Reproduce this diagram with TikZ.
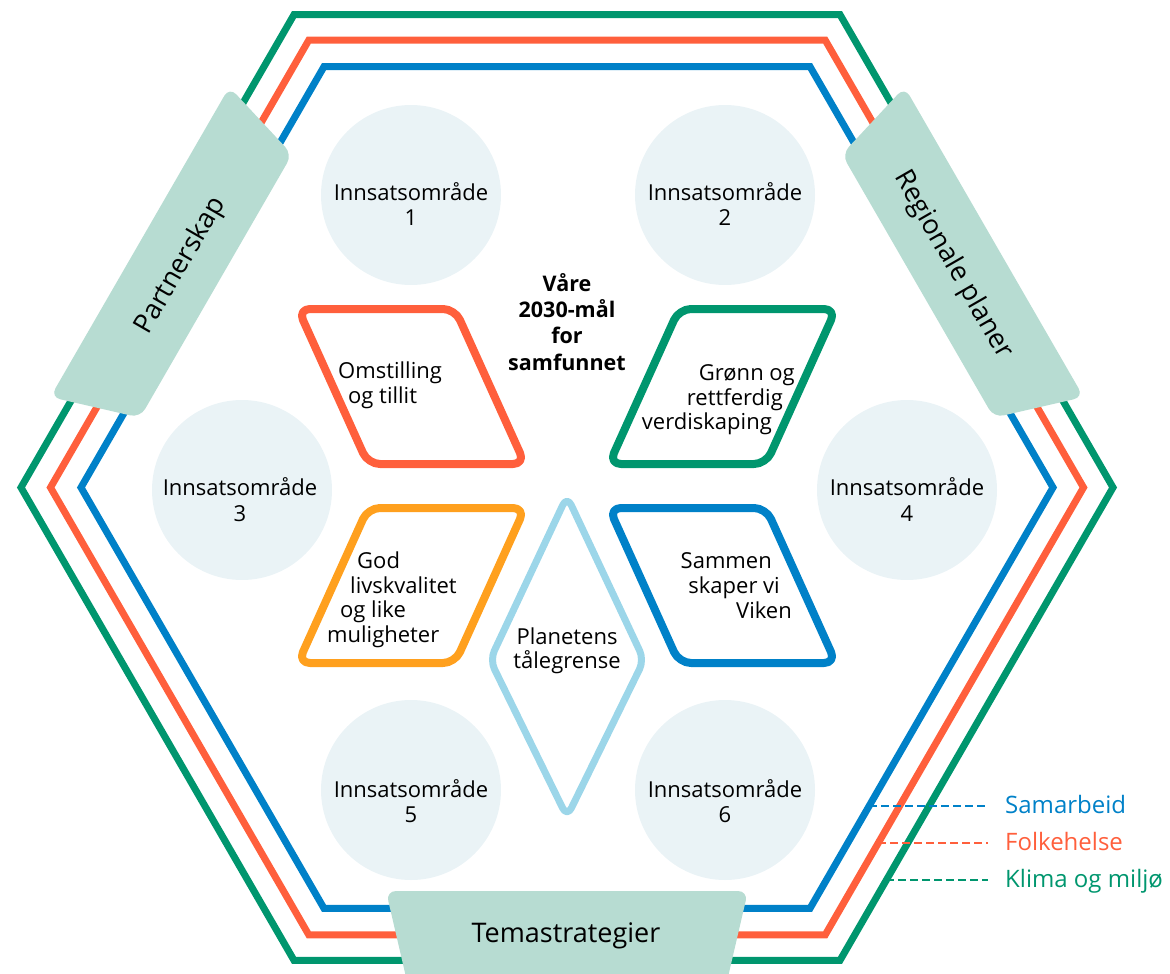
\documentclass[tikz,border=0pt]{standalone}
\usepackage{fontspec}
\setmainfont{Open Sans}
\definecolor{cgreen}{HTML}{00966E}
\definecolor{corange}{HTML}{FF5F3C}
\definecolor{cblue}{HTML}{0081C8}
\definecolor{cyellow}{HTML}{FFA01E}
\definecolor{clight}{HTML}{9CD6E9}
\definecolor{cbox}{HTML}{B7DCD2}
\definecolor{ccirc}{HTML}{EAF3F6}
\begin{document}
\begin{tikzpicture}[x=1pt,y=-1pt,
  hexline/.style={line width=7pt, line join=miter},
  goal/.style={line width=8pt, rounded corners=12pt, line join=round},
  diam/.style={line width=7pt, rounded corners=10pt, line join=round, clight},
  circ/.style={circle, fill=ccirc, minimum size=180pt, inner sep=0pt},
  lbl/.style={inner sep=0pt, font=\fontsize{22}{25}\selectfont, anchor=base},
  lblw/.style={lbl, anchor=base west},
  lble/.style={lbl, anchor=base east},
  bld/.style={inner sep=0pt, font=\fontsize{21.5}{25}\selectfont\bfseries, anchor=base},
  boxfill/.style={fill=cbox, rounded corners=10pt},
  boxtxt/.style={inner sep=0pt, font=\fontsize{27}{30}\selectfont},
  legtxt/.style={inner sep=0pt, font=\fontsize{24}{28}\selectfont, anchor=base west},
  legdash/.style={line width=2pt, dash pattern=on 8pt off 4pt}
]
\useasboundingbox (0,0) rectangle (1170,974);

% hexagon outlines
\begin{scope}[shift={(567,487.5)}]
  \draw[hexline, cgreen]  (0:546) -- (60:546) -- (120:546) -- (180:546) -- (240:546) -- (300:546) -- cycle;
  \draw[hexline, corange] (0:516.5) -- (60:516.5) -- (120:516.5) -- (180:516.5) -- (240:516.5) -- (300:516.5) -- cycle;
  \draw[hexline, cblue]   (0:486) -- (60:486) -- (120:486) -- (180:486) -- (240:486) -- (300:486) -- cycle;
\end{scope}

% side boxes
\begin{scope}[shift={(178,264)}, rotate=60]
  \fill[boxfill] (-179,-44) -- (179,-44) -- (152,44) -- (-152,44) -- cycle;
\end{scope}
\begin{scope}[shift={(956,264)}, rotate=-60]
  \fill[boxfill] (-179,-44) -- (179,-44) -- (152,44) -- (-152,44) -- cycle;
\end{scope}
\fill[boxfill] (386,891) -- (748,891) -- (725,990) -- (409,990) -- cycle;

\node[boxtxt, rotate=60] (partner) at (181,266) {Partnerskap};
\node[boxtxt, rotate=-60] (regional) at (953,265) {Regionale planer};
\node[boxtxt, anchor=base] (tema) at (566,942) {Temastrategier};

% circles
\node[circ] (c1) at (411,195) {};
\node[circ] (c2) at (725,195) {};
\node[circ] (c3) at (242,490) {};
\node[circ] (c4) at (907,490) {};
\node[circ] (c5) at (411,790) {};
\node[circ] (c6) at (725,790) {};
\node[lbl] (c1a) at (411,200) {Innsatsområde};
\node[lbl] (c1b) at (411,225) {1};
\node[lbl] (c2a) at (725,200) {Innsatsområde};
\node[lbl] (c2b) at (725,225) {2};
\node[lbl] (c3a) at (240,495) {Innsatsområde};
\node[lbl] (c3b) at (240,521) {3};
\node[lbl] (c4a) at (907,495) {Innsatsområde};
\node[lbl] (c4b) at (907,521) {4};
\node[lbl] (c5a) at (411,797) {Innsatsområde};
\node[lbl] (c5b) at (411,822) {5};
\node[lbl] (c6a) at (725,797) {Innsatsområde};
\node[lbl] (c6b) at (725,822) {6};

% goals
\draw[goal, corange] (298,309) -- (455,309) -- (525,464) -- (368,464) -- cycle;
\draw[goal, cgreen]  (679,309) -- (836,309) -- (766,464) -- (609,464) -- cycle;
\draw[goal, cyellow] (368,508) -- (525,508) -- (455,663) -- (298,663) -- cycle;
\draw[goal, cblue]   (609,508) -- (766,508) -- (836,663) -- (679,663) -- cycle;
\draw[diam] (567,496) -- (644,660) -- (567,817) -- (490,660) -- cycle;

\node[lblw] (g1a) at (338,378) {Omstilling};
\node[lblw] (g1b) at (348,403) {og tillit};
\node[lble] (g2a) at (795,380) {Grønn og};
\node[lble] (g2b) at (783,405) {rettferdig};
\node[lble] (g2c) at (772,429) {verdiskaping};
\node[lblw] (g3a) at (357,568) {God};
\node[lblw] (g3b) at (350,593) {livskvalitet};
\node[lblw] (g3c) at (340,617) {og like};
\node[lblw] (g3d) at (327,642) {muligheter};
\node[lble] (g4a) at (772,568) {Sammen};
\node[lble] (g4b) at (780,593) {skaper vi};
\node[lble] (g4c) at (792,618) {Viken};
\node[lbl] (p1) at (567,644) {Planetens};
\node[lbl] (p2) at (567,668) {tålegrense};

\node[bld] (m1) at (567,291) {Våre};
\node[bld] (m2) at (567,317) {2030-mål};
\node[bld] (m3) at (567,343) {for};
\node[bld] (m4) at (567,370) {samfunnet};

% legend
\coordinate (sb) at (869,806);
\coordinate (sf) at (878,843);
\coordinate (sk) at (886,880);
\node[legtxt, text=cblue] (lsam) at (1005,813) {Samarbeid};
\node[legtxt, text=corange] (lfolk) at (1005,850) {Folkehelse};
\node[legtxt, text=cgreen] (lklima) at (1005,887) {Klima og miljø};
\draw[legdash, cblue] (sb) -- (988,806);
\draw[legdash, corange] (sf) -- (988,843);
\draw[legdash, cgreen] (sk) -- (988,880);
\end{tikzpicture}
\end{document}
